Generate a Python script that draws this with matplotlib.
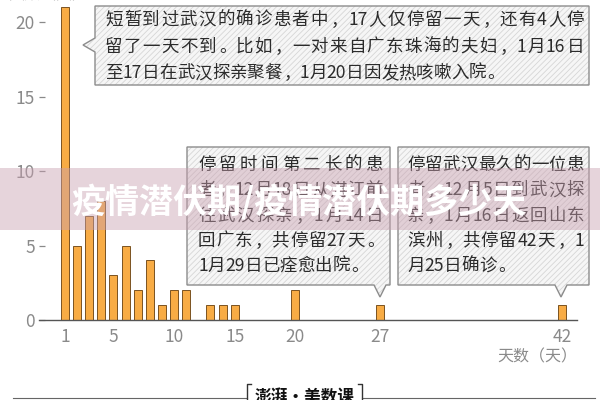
import re
import matplotlib
matplotlib.use('Agg')
import matplotlib.pyplot as plt
from matplotlib.patches import Polygon, Rectangle
from matplotlib.lines import Line2D

# ---------------- data ----------------
days = [1, 2, 3, 4, 5, 6, 7, 8, 9, 10, 11, 13, 14, 15, 20, 27, 42]
counts = [21, 5, 7, 8, 3, 5, 2, 4, 1, 2, 2, 1, 1, 1, 2, 1, 1]
xtick_vals = [1, 5, 10, 15, 20, 27, 42]
ytick_vals = [0, 5, 10, 15, 20]
xlabel = "天数（天）"
ylabel = "人数（人）"
title = "疫情潜伏期/疫情潜伏期多少天"
brand = "澎湃·美数课"
note1 = ["短暂到过武汉的确诊患者中，17人仅停留一天，还有4人停",
         "留了一天不到。比如，一对来自广东珠海的夫妇，1月16日",
         "至17日在武汉探亲聚餐，1月20日因发热咳嗽入院。"]
note2 = ["停留时间第二长的患",
         "者，12月18日从湛江前",
         "往武汉探亲，1月14日",
         "回广东，共停留27天。",
         "1月29日已痊愈出院。"]
note3 = ["停留武汉最久的一位患",
         "者，12月5日到武汉探",
         "亲，1月16日返回山东",
         "滨州，共停留42天，1",
         "月25日确诊。"]

FAM = ['Noto Sans CJK SC', 'DejaVu Sans']
plt.rcParams['font.family'] = FAM
plt.rcParams['hatch.linewidth'] = 0.6

fig = plt.figure(figsize=(6, 4), dpi=100, facecolor='white')

# ---------------- main bar chart ----------------
ax = fig.add_axes([39 / 600, 80 / 400, (577 - 39) / 600, 320 / 400])
ax.bar(days, counts, width=0.66, color='#F8AC45', edgecolor='#7a5220',
       linewidth=0.7, zorder=2)
ax.set_xlim(-1.145, 43.24)
ax.set_ylim(0, 21.48)
for s in ['top', 'right', 'left']:
    ax.spines[s].set_visible(False)
ax.spines['bottom'].set_color('#555555')
ax.spines['bottom'].set_linewidth(1.0)
ax.set_xticks(xtick_vals)
ax.set_xticklabels([str(v) for v in xtick_vals])
ax.set_yticks(ytick_vals)
ax.set_yticklabels([str(v) for v in ytick_vals])
ax.tick_params(axis='x', length=0, pad=6, labelsize=12.5, labelcolor='#8a8a8a')
ax.tick_params(axis='y', direction='in', length=4.3, width=0.9, color='#8a8a8a',
               pad=3, labelsize=12.5, labelcolor='#8a8a8a')
ax.set_facecolor('none')

# ---------------- overlay (pixel coordinates) ----------------
ov = fig.add_axes([0, 0, 1, 1], zorder=5)
ov.set_xlim(0, 600)
ov.set_ylim(400, 0)
ov.axis('off')
ov.set_facecolor('none')

renderer = fig.canvas.get_renderer()
FS = 12.6
EM = FS * 100 / 72


def text_w(s, fs=FS):
    t = ov.text(0, 0, s, fontsize=fs)
    w = t.get_window_extent(renderer).width
    t.remove()
    return w


base_w = text_w('一一')


def adv(tok):
    return text_w('一' + tok + '一') - base_w


def draw_line(line, x0, x1, yc, justify):
    toks = re.findall(r'\d+|.', line)
    advs = [adv(t) for t in toks]
    total = sum(advs)
    gap = (x1 - x0 - total) / (len(toks) - 1) if (justify and len(toks) > 1) else 0
    yb = yc + 0.38 * EM
    x = x0
    for t, a in zip(toks, advs):
        if t in '，。、':
            ov.text(x + 0.1 * a, yb, t, ha='left', va='baseline', fontsize=FS,
                    color='#2b2b2b', zorder=4)
        else:
            ov.text(x + a / 2, yb, t, ha='center', va='baseline', fontsize=FS,
                    color='#2b2b2b', zorder=4)
        x += a + gap


def draw_box(verts):
    ov.add_patch(Polygon(verts, closed=True, facecolor='#f6f6f6', edgecolor='#d6d6d6',
                         hatch='//////', linewidth=0, zorder=2))
    ov.add_patch(Polygon(verts, closed=True, fill=False, edgecolor='#8c8c8c',
                         linewidth=1.0, zorder=3))


# box 1
draw_box([(95, 6), (589, 6), (589, 85), (95, 85), (95, 52), (83, 45), (95, 38)])
for i, (ln, yc) in enumerate(zip(note1, [18, 45, 71.5])):
    draw_line(ln, 105, 584, yc, i < len(note1) - 1)

# box 2
draw_box([(187, 147), (390, 147), (390, 285), (386, 285), (380, 297), (374, 285), (187, 285)])
ys = [163, 188.5, 214, 239, 264.5]
for i, (ln, yc) in enumerate(zip(note2, ys)):
    draw_line(ln, 198, 383, yc, i < len(note2) - 1)

# box 3
draw_box([(398, 147), (589, 147), (589, 285), (567, 285), (561, 297), (555, 285), (398, 285)])
for i, (ln, yc) in enumerate(zip(note3, ys)):
    draw_line(ln, 407, 584, yc, i < len(note3) - 1)

# axis labels
ov.text(577, 357, xlabel, ha='right', va='center', fontsize=11.5, color='#8a8a8a')
ov.text(8, -5, ylabel, ha='left', va='center', fontsize=11.5, color='#8a8a8a')

# footer
ov.add_line(Line2D([13, 247], [398, 398], color='#666666', linewidth=0.8))
ov.add_line(Line2D([362, 595], [398, 398], color='#666666', linewidth=0.8))
ov.add_line(Line2D([251, 247, 247], [384, 384, 400], color='#333333', linewidth=1.0))
ov.add_line(Line2D([358, 362, 362], [384, 384, 400], color='#333333', linewidth=1.0))
ov.text(304.5, 397, brand, ha='center', va='center', fontsize=12, weight='bold',
        color='#111111')

# banner
ov.add_patch(Rectangle((0, 168), 600, 62, facecolor='#c9a0b0', alpha=0.45,
                       linewidth=0, zorder=6))
ov.text(299, 202, title, ha='center', va='center', fontsize=24.5, weight='bold',
        color='white', zorder=7)

fig.savefig('out.png', dpi=100, facecolor='white')
